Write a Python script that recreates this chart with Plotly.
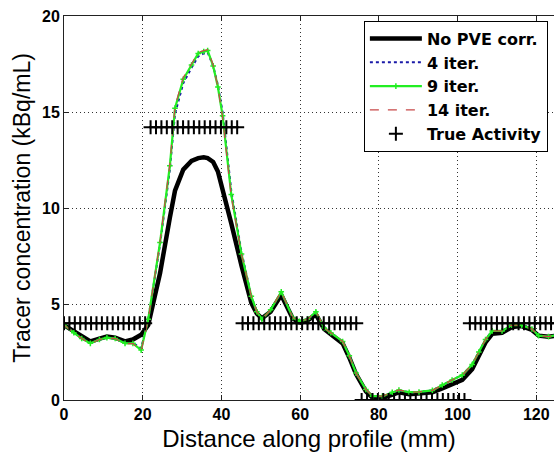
import plotly.graph_objects as go

# ---- data ----
x_mm = [0, 2.5, 4.5, 6.7, 9.0, 10.9, 13.0, 15.5, 17.5, 19.6,
        21.4, 24.4, 26.9, 28.2, 30.3, 32.4, 34.1, 35.5, 36.5, 37.9,
        39.1, 40.3, 42.5, 45.1, 47.6, 49.0, 50.3, 52.5, 55.2, 58.1,
        59.8, 61.9, 64.0, 66.1, 67.8, 70.8, 72.5, 74.2, 76.7, 78.4,
        80.9, 83.4, 85.1, 87.7, 90.2, 93.6, 96.1, 98.6, 101.2, 103.7,
        105.4, 107.1, 108.8, 111.3, 113.8, 116.3, 118.9, 120.6, 123.1, 125.5]

no_pve = [3.9, 3.6, 3.3, 3.05, 3.2, 3.3, 3.25, 3.05, 3.15, 3.4,
          3.9, 6.6, 9.5, 10.9, 12.0, 12.45, 12.6, 12.64, 12.6, 12.4,
          11.9, 11.0, 9.2, 7.0, 5.05, 4.5, 4.25, 4.6, 5.47, 4.25,
          4.05, 4.15, 4.45, 3.7, 3.45, 2.95, 2.2, 1.35, 0.45, 0.12,
          0.1, 0.3, 0.4, 0.3, 0.35, 0.4, 0.6, 0.85, 1.05, 1.6,
          2.3, 3.0, 3.45, 3.5, 3.8, 3.85, 3.65, 3.35, 3.3, 3.35]

iter4 = [3.9, 3.5, 3.2, 2.97, 3.15, 3.25, 3.2, 2.97, 2.97, 2.7,
         4.2, 8.1, 12.0, 14.9, 16.5, 17.3, 17.9, 18.05, 18.1, 17.4,
         16.4, 15.0, 10.9, 7.7, 5.4, 4.6, 4.2, 4.7, 5.6, 4.3,
         4.1, 4.2, 4.55, 3.75, 3.5, 3.05, 2.3, 1.4, 0.55, 0.2,
         0.2, 0.4, 0.5, 0.4, 0.42, 0.5, 0.78, 1.04, 1.3, 1.85,
         2.5, 3.15, 3.6, 3.6, 3.9, 3.9, 3.7, 3.35, 3.3, 3.4]

iter9 = [3.9, 3.5, 3.2, 2.95, 3.15, 3.25, 3.2, 2.95, 2.95, 2.6,
         4.2, 8.2, 12.2, 15.2, 16.7, 17.45, 18.05, 18.15, 18.2, 17.4,
         16.3, 14.8, 10.7, 7.6, 5.4, 4.6, 4.2, 4.7, 5.64, 4.3,
         4.1, 4.2, 4.6, 3.75, 3.5, 3.05, 2.3, 1.4, 0.55, 0.2,
         0.2, 0.4, 0.52, 0.4, 0.42, 0.5, 0.78, 1.04, 1.3, 1.85,
         2.5, 3.15, 3.6, 3.6, 3.9, 3.9, 3.7, 3.35, 3.3, 3.4]

iter14 = [3.9, 3.5, 3.2, 2.94, 3.15, 3.25, 3.2, 2.94, 2.94, 2.55,
          4.2, 8.25, 12.3, 15.3, 16.8, 17.5, 18.1, 18.2, 18.25, 17.45,
          16.3, 14.7, 10.6, 7.6, 5.4, 4.6, 4.2, 4.7, 5.66, 4.3,
          4.1, 4.2, 4.62, 3.75, 3.5, 3.05, 2.3, 1.4, 0.55, 0.2,
          0.2, 0.4, 0.53, 0.4, 0.42, 0.5, 0.78, 1.04, 1.3, 1.85,
          2.5, 3.15, 3.6, 3.6, 3.9, 3.9, 3.7, 3.35, 3.3, 3.4]

# true activity: sampled every true_step_mm, piecewise constant levels
true_step_mm = 1.375
true_seg_counts = [16, 17, 22, 20, 17]
true_seg_levels = [4.0, 14.2, 4.0, 0.0, 4.0]

true_x, true_y = [], []
idx = 0
for cnt, lev in zip(true_seg_counts, true_seg_levels):
    for _ in range(cnt):
        true_x.append(idx * true_step_mm)
        true_y.append(lev)
        idx += 1

x_ticks = [0, 20, 40, 60, 80, 100, 120]
y_ticks = [0, 5, 10, 15, 20]

FONT = "Arial, Liberation Sans, sans-serif"
LEG_FONT = "DejaVu Sans, Arial, sans-serif"

fig = go.Figure()
fig.add_trace(go.Scatter(x=x_mm, y=no_pve, mode="lines", name="No PVE corr.",
                         line=dict(color="black", width=4.5)))
fig.add_trace(go.Scatter(x=x_mm, y=iter4, mode="lines", name="4 iter.",
                         line=dict(color="#1a1aa8", width=2, dash="dot")))
fig.add_trace(go.Scatter(x=x_mm, y=iter9, mode="lines+markers", name="9 iter.",
                         line=dict(color="#22ee22", width=2.2),
                         marker=dict(symbol="cross-thin", size=4,
                                     line=dict(color="#22ee22", width=1.5))))
fig.add_trace(go.Scatter(x=x_mm, y=iter14, mode="lines", name="14 iter.",
                         line=dict(color="#c84848", width=1.2, dash="dash")))
fig.add_trace(go.Scatter(x=true_x, y=true_y, mode="markers", name="True Activity",
                         marker=dict(symbol="cross-thin", size=10, color="black",
                                     line=dict(color="black", width=2))))

axis_common = dict(
    showline=True, linecolor="#222", linewidth=1,
    ticks="inside", ticklen=5, tickcolor="#222",
    showgrid=True, gridcolor="#333", gridwidth=1, griddash="1px,3px",
    zeroline=False,
    tickfont=dict(family=FONT, size=16, color="black", weight="bold"),
)

fig.update_layout(
    width=554, height=457,
    margin=dict(l=64, r=0, t=16, b=57),
    paper_bgcolor="white", plot_bgcolor="white",
    font=dict(family=FONT, color="black"),
    xaxis=dict(range=[0, 124.5], tickvals=x_ticks, mirror="ticks",
               title=dict(text="Distance along profile (mm)",
                          font=dict(family=FONT, size=24), standoff=7),
               **axis_common),
    yaxis=dict(range=[0, 20], tickvals=y_ticks, mirror=False,
               title=dict(text="Tracer concentration (kBq/mL)",
                          font=dict(family=FONT, size=23), standoff=4),
               **axis_common),
    legend=dict(x=0.612, y=0.988, xanchor="left", yanchor="top",
                bgcolor="white", bordercolor="black", borderwidth=1,
                itemwidth=52, tracegroupgap=0,
                font=dict(family=LEG_FONT, size=16, color="black", weight="bold")),
    showlegend=True,
)

fig.write_html("out.html")
